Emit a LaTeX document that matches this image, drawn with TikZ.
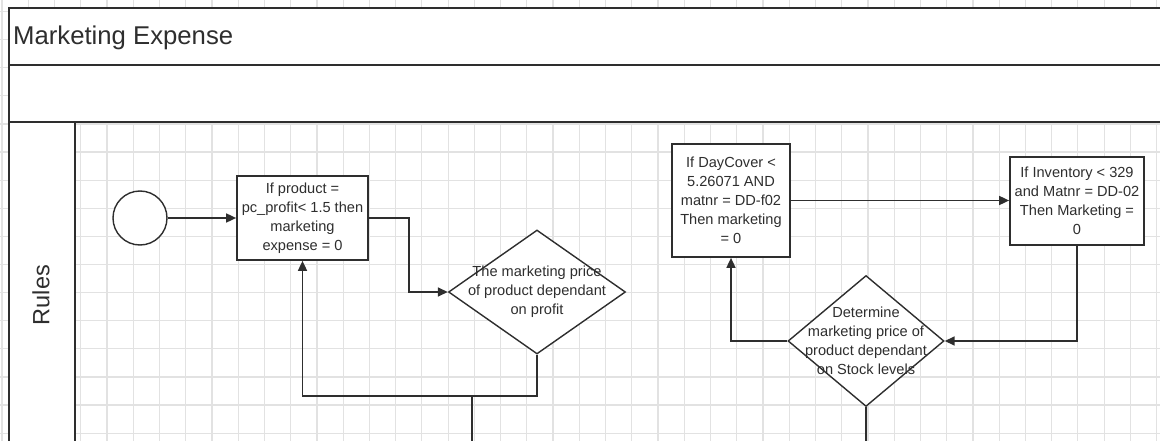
\documentclass[tikz,border=0pt]{standalone}
\usepackage{fontspec}
\setmainfont{Liberation Sans}
\usetikzlibrary{shapes.geometric,arrows.meta}
\definecolor{ink}{HTML}{2E2E2E}
\definecolor{gridc}{HTML}{E2E2E2}
\begin{document}
\begin{tikzpicture}[x=1pt,y=-1pt,
  boxtext/.style={font=\fontsize{14.6}{19}\selectfont, text=ink, align=center},
  rulebox/.style={draw=ink, line width=1.7pt, fill=white, rectangle, inner sep=0pt, boxtext},
  decision/.style={draw=ink, line width=1.4pt, fill=white, diamond, inner sep=0pt},
  startev/.style={draw=ink, line width=1.4pt, fill=white, circle, inner sep=0pt, minimum size=54pt},
  frameline/.style={draw=ink, line width=1.9pt},
  gridline/.style={draw=gridc, line width=1.2pt},
  flow/.style={draw=ink, line width=1.6pt},
  flowarrow/.style={flow, -{Triangle[length=10pt,width=9pt]}},
]
\useasboundingbox (0,0) rectangle (1160,441);
% grid
\foreach \k in {-4,...,40} \draw[gridline] ({107+26.24*\k},0) -- ({107+26.24*\k},441);
\foreach \k in {-5,...,11} \draw[gridline] (0,{124+28.1*\k}) -- (1160,{124+28.1*\k});
% pool frame
\fill[white] (9,8) rectangle (1160,122);
\fill[white] (9,122) rectangle (75,441);
\draw[frameline] (1160,8) -- (9,8) -- (9,441);
\draw[frameline] (9,65) -- (1160,65);
\draw[frameline] (9,122) -- (1160,122);
\draw[frameline] (75,122) -- (75,441);
\node[anchor=base west, inner sep=0pt, text=ink, font=\fontsize{25.7}{30}\selectfont] (title) at (13,45) {Marketing Expense};
\node[rotate=90, inner sep=0pt, text=ink, font=\fontsize{23.5}{28}\selectfont] (lane) at (41,295) {Rules};
% nodes
\node[startev] (start) at (140,218) {};
\node[rulebox, minimum width=131pt, minimum height=84pt] (b1) at (302.5,218) {If product =\\pc\_profit< 1.5 then\\marketing\\expense = 0};
\node[decision, minimum width=177pt, minimum height=124pt, label={[boxtext]center:The marketing price\\of product dependant\\on profit}] (d1) at (537,292) {};
\node[rulebox, minimum width=118pt, minimum height=113pt] (b2) at (731,200.5) {If DayCover <\\5.26071 AND\\matnr = DD-f02\\Then marketing\\= 0};
\node[rulebox, minimum width=134pt, minimum height=88pt] (b3) at (1077,201) {If Inventory < 329\\and Matnr = DD-02\\Then Marketing =\\0};
\node[decision, minimum width=156pt, minimum height=131pt, label={[boxtext]center:Determine\\marketing price of\\product dependant\\on Stock levels}] (d2) at (866,341) {};
\coordinate (j1) at (472,396);
\coordinate (e1) at (472,441);
\coordinate (e2) at (866,441);
% connectors
\draw[flowarrow] (start.east) -- (b1.west);
\draw[flowarrow] (b1.east) -- ++(40,0) |- (d1.west);
\draw[flowarrow] (d1.south) |- (j1) -| (b1.south);
\draw[flow] (j1) -- (e1);
\draw[flowarrow] (b2.east) -- (b2.east -| b3.west);
\draw[flowarrow] (b3.south) |- (d2.east);
\draw[flowarrow] (d2.west) -| (b2.south);
\draw[flow] (d2.south) -- (e2);
\end{tikzpicture}
\end{document}
